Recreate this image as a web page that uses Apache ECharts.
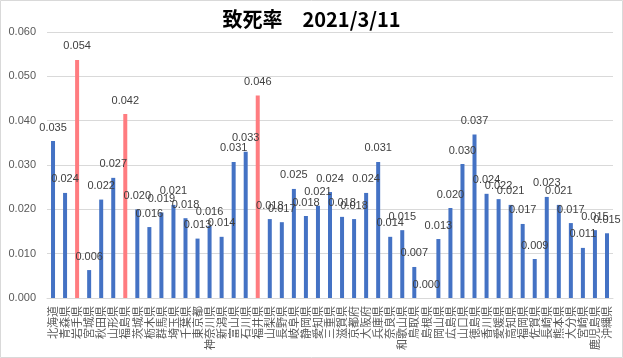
<!DOCTYPE html>
<html>
<head>
<meta charset="utf-8">
<script src="https://cdn.jsdelivr.net/npm/echarts@6/dist/echarts.min.js"></script>
<style>html,body{margin:0;padding:0;background:#fff}#c{width:623px;height:358px}</style>
</head>
<body>
<div id="c"></div>
<script>
const categories = ['北海道','青森県','岩手県','宮城県','秋田県','山形県','福島県','茨城県','栃木県','群馬県','埼玉県','千葉県','東京都','神奈川県','新潟県','富山県','石川県','福井県','山梨県','長野県','岐阜県','静岡県','愛知県','三重県','滋賀県','京都府','大阪府','兵庫県','奈良県','和歌山県','鳥取県','島根県','岡山県','広島県','山口県','徳島県','香川県','愛媛県','高知県','福岡県','佐賀県','長崎県','熊本県','大分県','宮崎県','鹿児島県','沖縄県'];
const fatalityRate = [0.0354,0.0237,0.0537,0.0063,0.0222,0.0271,0.0415,0.0200,0.0160,0.0193,0.0210,0.0180,0.0134,0.0163,0.0138,0.0307,0.0330,0.0457,0.0178,0.0171,0.0246,0.0185,0.0208,0.0239,0.0183,0.0178,0.0237,0.0307,0.0138,0.0153,0.0070,0.0000,0.0133,0.0203,0.0302,0.0369,0.0235,0.0223,0.0210,0.0167,0.0088,0.0228,0.0210,0.0169,0.0113,0.0153,0.0146];
const highlighted = ['岩手県','福島県','福井県'];
const yTicks = {min: 0, max: 0.06, interval: 0.01};
const titleText = '致死率　2021/3/11';

const chart = echarts.init(document.getElementById('c'), null, {renderer: 'canvas'});
chart.setOption({
  animation: false,
  backgroundColor: '#fff',
  title: {
    text: titleText, left: 'center', top: 4,
    textStyle: {fontFamily: 'Noto Sans CJK JP', fontSize: 20, fontWeight: 'bold', color: '#000'}
  },
  graphic: [{type: 'rect', shape: {x: 0.5, y: 0.5, width: 622, height: 357}, style: {fill: 'none', stroke: '#d9d9d9', lineWidth: 1}, silent: true}],
  grid: {left: 47, right: 10, top: 32, bottom: 60, containLabel: false},
  xAxis: {
    type: 'category', data: categories,
    axisLine: {lineStyle: {color: '#d9d9d9'}},
    axisTick: {show: false},
    axisLabel: {interval: 0, rotate: 90, margin: 8, color: '#595959', fontSize: 11, fontFamily: 'Noto Sans CJK JP'}
  },
  yAxis: {
    type: 'value', min: yTicks.min, max: yTicks.max, interval: yTicks.interval,
    axisLine: {show: false}, axisTick: {show: false},
    splitLine: {lineStyle: {color: '#d9d9d9'}},
    axisLabel: {color: '#595959', fontSize: 11, fontFamily: 'Liberation Sans', margin: 11, formatter: v => v.toFixed(3)}
  },
  series: [{
    type: 'bar', barWidth: 4,
    data: fatalityRate.map((v, i) => ({value: v, itemStyle: {color: highlighted.includes(categories[i]) ? '#FF7C80' : '#4472C4'}})),
    label: {show: true, position: 'top', distance: 8, color: '#404040', fontSize: 11, fontFamily: 'Liberation Sans', formatter: p => p.value.toFixed(3)}
  }]
});
</script>
</body>
</html>
